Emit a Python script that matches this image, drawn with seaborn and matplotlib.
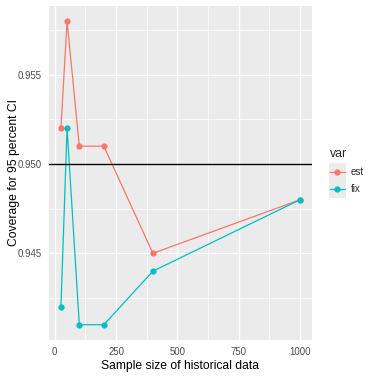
import matplotlib
matplotlib.use("Agg")
import matplotlib.pyplot as plt
import seaborn as sns
import pandas as pd
import numpy as np
from matplotlib.lines import Line2D
from matplotlib.patches import Rectangle

sample_size = [25, 50, 100, 200, 400, 1000]
est = [0.952, 0.958, 0.951, 0.951, 0.945, 0.948]
fix = [0.942, 0.952, 0.941, 0.941, 0.944, 0.948]
series = ["est", "fix"]
colors = ["#F8766D", "#00BFC4"]

df = pd.DataFrame({
    "n": sample_size * 2,
    "coverage": est + fix,
    "var": ["est"] * len(est) + ["fix"] * len(fix),
})

sns.set_theme(style="darkgrid")
plt.rcParams["font.family"] = ["Liberation Sans", "DejaVu Sans"]

fig = plt.figure(figsize=(3.71, 3.76), dpi=100)
ax = fig.add_axes([0.132, 0.096, 0.709, 0.888])
ax.set_facecolor("#EBEBEB")

sns.lineplot(data=df, x="n", y="coverage", hue="var", hue_order=series,
             palette=colors, marker="o", markersize=4.5, markeredgewidth=0,
             linewidth=0.9, ax=ax, legend=False)
ax.axhline(0.950, color="black", linewidth=1.0)

ax.set_xlim(-23.75, 1048.75)
ax.set_ylim(0.94015, 0.95885)
ax.set_xticks([0, 250, 500, 750, 1000])
ax.set_yticks([0.945, 0.950, 0.955])
ax.set_yticklabels(["0.945", "0.950", "0.955"])
ax.set_xticks([125, 375, 625, 875], minor=True)
ax.set_yticks([0.9425, 0.9475, 0.9525, 0.9575], minor=True)
ax.grid(which="major", color="white", linewidth=1.0)
ax.grid(which="minor", color="white", linewidth=0.5)
ax.set_axisbelow(True)
for s in ax.spines.values():
    s.set_visible(False)
ax.tick_params(which="major", length=3, width=0.6, color="#333333",
               labelsize=6.9, labelcolor="#4D4D4D", pad=2)
ax.tick_params(which="minor", length=0)
ax.set_xlabel("Sample size of historical data", fontsize=8.7, color="black", labelpad=2)
ax.set_ylabel("Coverage for 95 percent CI", fontsize=8.7, color="black")
ax.yaxis.set_label_coords(-0.112, 0.5)

# legend
handles = [Line2D([0], [0], color=c, marker="o", markersize=4.5, markeredgewidth=0,
                  linewidth=0.9) for c in colors]
leg = fig.legend(handles, series, title="var", loc="upper left",
                 bbox_to_anchor=(0.865, 0.63), frameon=False, fontsize=7,
                 title_fontsize=8.8, handlelength=1.6, handletextpad=0.6,
                 labelspacing=0.75, alignment="left")

fig.canvas.draw()
renderer = fig.canvas.get_renderer()
for h in leg.legend_handles:
    bb = h.get_window_extent(renderer)
    cx, cy = (bb.x0 + bb.x1) / 2, (bb.y0 + bb.y1) / 2
    w = h_ = 17.3
    x0, y0 = fig.transFigure.inverted().transform((cx - w / 2, cy - h_ / 2))
    x1, y1 = fig.transFigure.inverted().transform((cx + w / 2, cy + h_ / 2))
    fig.patches.append(Rectangle((x0, y0), x1 - x0, y1 - y0, transform=fig.transFigure,
                                 facecolor="#EBEBEB", edgecolor="none", zorder=0))

fig.savefig("out.png", dpi=100)
